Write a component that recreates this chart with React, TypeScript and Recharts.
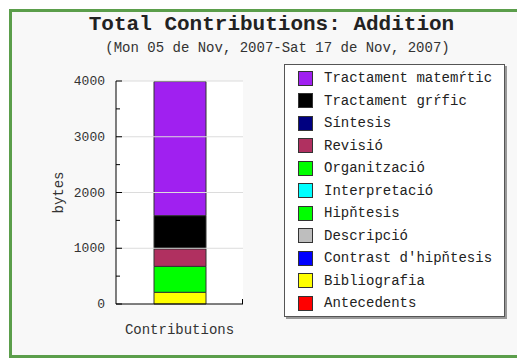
import { BarChart, Bar, XAxis, YAxis, CartesianGrid, ReferenceLine } from "recharts";

const categories = ["Contributions"];

// stacking order, bottom to top
const seriesNames = [
  "Antecedents",
  "Bibliografia",
  "Contrast d'hipňtesis",
  "Descripció",
  "Hipňtesis",
  "Interpretació",
  "Organització",
  "Revisió",
  "Síntesis",
  "Tractament grŕfic",
  "Tractament matemŕtic",
];
const seriesValues = [0, 210, 0, 0, 465, 0, 0, 315, 0, 595, 2405];
const seriesColors = [
  "#ff0000",
  "#ffff00",
  "#0000ff",
  "#bebebe",
  "#00ff00",
  "#00ffff",
  "#00ff00",
  "#b03060",
  "#000080",
  "#000000",
  "#a020f0",
];

const yTicks = [0, 500, 1000, 1500, 2000, 2500, 3000, 3500, 4000];
const gridValues = [1000, 2000, 3000, 4000];

const title = "Total Contributions: Addition";
const subtitle = "(Mon 05 de Nov, 2007-Sat 17 de Nov, 2007)";

const data = categories.map((name) => {
  const row: Record<string, string | number> = { name };
  seriesNames.forEach((s, i) => (row[s] = seriesValues[i]));
  return row;
});

const mono = "'Liberation Mono', 'DejaVu Sans Mono', monospace";
const AXIS_X = 116;

const YTick = (props: any) => {
  const { y, payload } = props;
  const major = payload.value % 1000 === 0;
  return (
    <g>
      <line x1={AXIS_X} x2={AXIS_X + (major ? 6 : 4)} y1={y} y2={y} stroke="#000" />
      {major && (
        <text x={AXIS_X - 11} y={y} dy={4} textAnchor="end" fontFamily={mono} fontSize={13} fill="#333">
          {payload.value}
        </text>
      )}
    </g>
  );
};

const LegendBox = () => (
  <div
    style={{
      position: "absolute",
      left: 284,
      top: 64,
      width: 221,
      height: 253,
      border: "1px solid #555",
      background: "#fff",
      boxShadow: "2px 2px 0 #999",
      fontFamily: mono,
      fontSize: 14,
      color: "#222",
      paddingTop: 2,
      boxSizing: "border-box",
    }}
  >
    {seriesNames
      .map((n, i) => ({ n, c: seriesColors[i] }))
      .reverse()
      .map((item) => (
        <div key={item.n} style={{ display: "flex", alignItems: "center", height: 22.5 }}>
          <span
            style={{
              display: "inline-block",
              width: 13,
              height: 13,
              marginLeft: 13,
              marginRight: 11,
              background: item.c,
              border: "1px solid #333",
            }}
          />
          <span style={{ whiteSpace: "nowrap" }}>{item.n}</span>
        </div>
      ))}
  </div>
);

export default function App() {
  return (
    <div style={{ position: "absolute", left: 0, top: 0, width: 517, height: 359, background: "#fff", overflow: "hidden" }}>
      <div
        style={{
          position: "absolute",
          left: 9,
          top: 9,
          width: 520,
          height: 349,
          border: "3px solid #5b9e4b",
          background: "#f8f8f8",
          boxSizing: "border-box",
        }}
      />
      <div
        style={{
          position: "absolute",
          left: 0,
          width: 543,
          top: 13,
          textAlign: "center",
          fontFamily: mono,
          fontWeight: "bold",
          fontSize: 21,
          color: "#222",
        }}
      >
        {title}
      </div>
      <div
        style={{
          position: "absolute",
          left: 0,
          width: 555,
          top: 40,
          textAlign: "center",
          fontFamily: mono,
          fontSize: 14,
          color: "#333",
        }}
      >
        {subtitle}
      </div>
      <div style={{ position: "absolute", left: 0, top: 0 }}>
        <BarChart
          width={517}
          height={359}
          data={data}
          margin={{ top: 81, right: 274, bottom: 25, left: 56 }}
          barSize={52}
        >
          <CartesianGrid fill="#fff" horizontal={false} vertical={false} />
          {gridValues.map((v) => (
            <ReferenceLine key={v} y={v} stroke="#dcdcdc" />
          ))}
          <XAxis
            dataKey="name"
            axisLine={{ stroke: "#000" }}
            tickLine={false}
            tick={{ fontFamily: mono, fontSize: 14, fill: "#333" }}
            tickMargin={14}
            height={30}
          />
          <YAxis
            width={60}
            domain={[0, 4000]}
            ticks={yTicks}
            interval={0}
            axisLine={{ stroke: "#000" }}
            tickLine={false}
            tick={<YTick />}
            label={{
              value: "bytes",
              angle: -90,
              position: "insideLeft",
              offset: 2,
              style: { fontFamily: mono, fontSize: 14, fill: "#333", textAnchor: "middle" },
            }}
          />
          {seriesNames.map((s, i) => (
            <Bar key={s} dataKey={s} stackId="a" fill={seriesColors[i]} stroke="#333" strokeWidth={1} isAnimationActive={false} />
          ))}
        </BarChart>
      </div>
      <LegendBox />
      {/* small end tick at right of x axis */}
      <div style={{ position: "absolute", left: 242, top: 299, width: 1, height: 5, background: "#000" }} />
    </div>
  );
}
